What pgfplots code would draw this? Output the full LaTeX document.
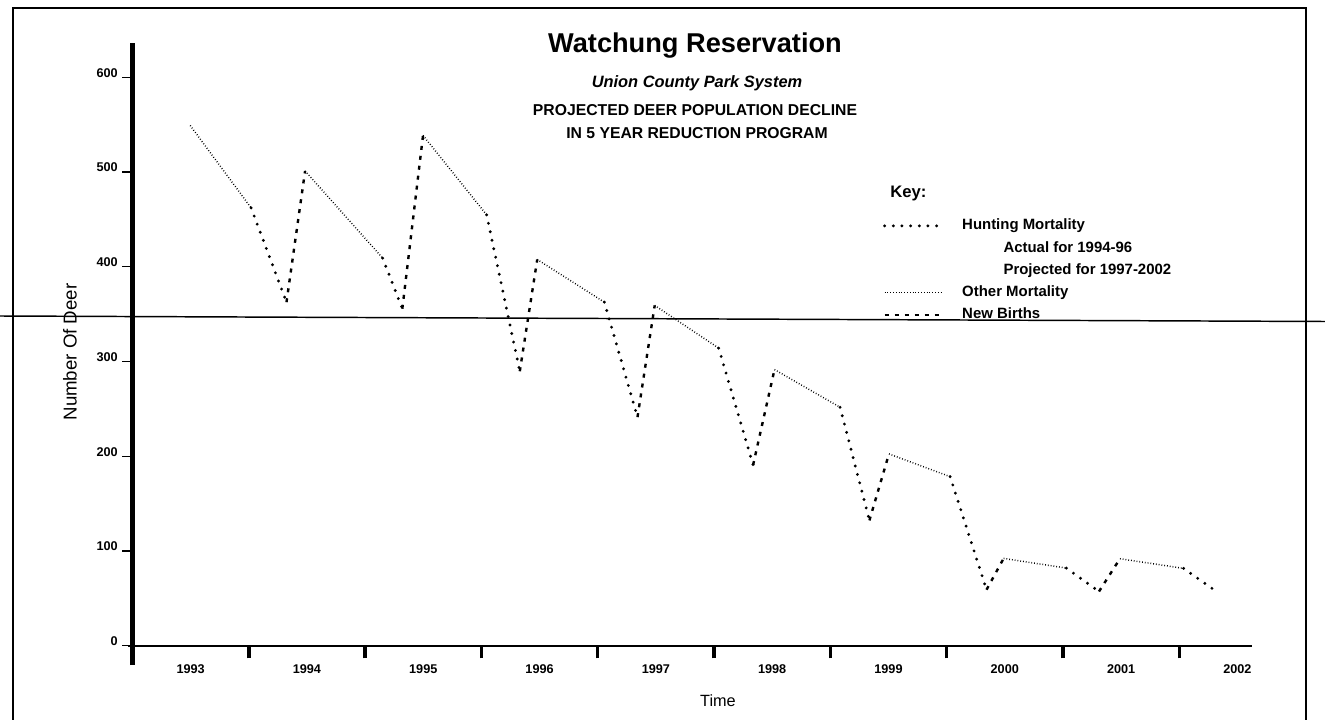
\documentclass[border=0pt]{standalone}
\usepackage{fontspec}
\setmainfont{Liberation Sans}
\usepackage{pgfplots}
\usepackage{pgfplotstable}
\pgfplotsset{compat=1.18}

% Other mortality (fine dots)
\pgfplotstableread[row sep=\\]{
x y\\
0.496 549\\ 1.02 462\\ 1.02 nan\\
1.484 501\\ 2.151 409\\ 2.151 nan\\
2.498 538.5\\ 3.045 454.7\\ 3.045 nan\\
3.48 407.6\\ 4.057 362.5\\ 4.057 nan\\
4.49 359.1\\ 5.04 314\\ 5.04 nan\\
5.52 291.4\\ 6.084 251.6\\ 6.084 nan\\
6.504 202.4\\ 7.03 178.4\\ 7.03 nan\\
7.49 92.1\\ 8.03 81.9\\ 8.03 nan\\
8.49 91.8\\ 9.037 81.6\\
}\othertab

% Hunting mortality (sparse dots)
\pgfplotstableread[row sep=\\]{
x y\\
1.02 462\\ 1.324 362.5\\ 1.324 nan\\
2.151 409\\ 2.32 355.6\\ 2.32 nan\\
3.045 454.7\\ 3.33 289.6\\ 3.33 nan\\
4.057 362.5\\ 4.342 241.2\\ 4.342 nan\\
5.04 314\\ 5.336 190.7\\ 5.336 nan\\
6.084 251.6\\ 6.336 132.2\\ 6.336 nan\\
7.03 178.4\\ 7.343 59.1\\ 7.343 nan\\
8.03 81.9\\ 8.31 57.2\\ 8.31 nan\\
9.037 81.6\\ 9.32 57.2\\
}\huntingtab

% New births (dashes)
\pgfplotstableread[row sep=\\]{
x y\\
1.324 362.5\\ 1.484 501\\ 1.484 nan\\
2.32 355.6\\ 2.498 538.5\\ 2.498 nan\\
3.33 289.6\\ 3.48 407.6\\ 3.48 nan\\
4.342 241.2\\ 4.49 359.1\\ 4.49 nan\\
5.336 190.7\\ 5.52 291.4\\ 5.52 nan\\
6.336 132.2\\ 6.504 202.4\\ 6.504 nan\\
7.343 59.1\\ 7.49 92.1\\ 7.49 nan\\
8.31 57.2\\ 8.49 91.8\\
}\birthstab

\begin{document}
\begin{tikzpicture}
\useasboundingbox (0,0) rectangle (993.75pt,-540pt);
\begin{scope}[x=0.75pt,y=-0.75pt]
  \clip (0,0) rectangle (1325,720);
  \draw[line width=1.5pt] (12.7,740) -- (12.7,8.3) -- (1306,8.3) -- (1306,740);
  \draw[line width=1.1pt] (0,316) -- (1325,321.5);
  \node[anchor=base, inner sep=0pt, font=\bfseries\fontsize{20.4}{24}\selectfont] at (695,53) {Watchung Reservation};
  \node[anchor=base, inner sep=0pt, font=\bfseries\itshape\fontsize{12.3}{14}\selectfont] at (697,88) {Union County Park System};
  \node[anchor=base, inner sep=0pt, font=\bfseries\fontsize{11.8}{14}\selectfont] at (695,116) {PROJECTED DEER POPULATION DECLINE};
  \node[anchor=base, inner sep=0pt, font=\bfseries\fontsize{11.8}{14}\selectfont] at (697,139) {IN 5 YEAR REDUCTION PROGRAM};
  \node[anchor=base west, inner sep=0pt, font=\bfseries\fontsize{12.5}{14}\selectfont] at (890,198) {Key:};
  \node[rotate=90, inner sep=0pt, font=\fontsize{14}{16}\selectfont] at (70,352) {Number Of Deer};
  \node[anchor=base, inner sep=0pt, font=\fontsize{12.2}{14}\selectfont] at (718,706) {Time};
\end{scope}
\begin{axis}[
  at={(99.375pt,-484.275pt)}, anchor=south west,
  scale only axis, width=839.4pt, height=452pt,
  xmin=0, xmax=9.623, ymin=0, ymax=636,
  axis lines=left,
  axis line style={-},
  x axis line style={line width=1.4pt, shorten <=-3pt},
  y axis line style={line width=3pt, shorten <=-14.5pt},
  tick align=outside,
  xtick={1,2,3,4,5,6,7,8,9},
  xticklabels={},
  minor xtick={1,2,3,4,5,6,7,8,9},
  minor tick length=9.5pt,
  minor tick style={line width=2.6pt, black},
  extra x ticks={0.5,1.5,2.5,3.5,4.5,5.5,6.5,7.5,8.5,9.5},
  extra x tick labels={1993,1994,1995,1996,1997,1998,1999,2000,2001,2002},
  extra x tick style={major tick length=0pt},
  ytick={0,100,200,300,400,500,600},
  major tick length=7.5pt,
  major tick style={line width=0.9pt, black},
  /pgf/number format/assume math mode=true,
  ticklabel style={font=\bfseries\fontsize{9.5}{11}\selectfont},
  xticklabel style={yshift=-11pt},
  yticklabel style={anchor=base east},
  unbounded coords=jump,
  clip=false,
  legend cell align=left,
  legend image code/.code={\draw[#1] (0pt,0pt) -- (43pt,0pt); \path (56pt,0pt);},
  legend style={at={(0.6706,0.711)}, anchor=north west, draw=none, fill=none,
    inner sep=0pt, outer sep=0pt, row sep=3.7pt,
    nodes={inner sep=1pt, text height=8.5pt, text depth=2.5pt,
      font=\bfseries\fontsize{11.2}{13}\selectfont}},
]
\addplot[black, line width=2.4pt, line cap=round, dash pattern=on 0pt off 6.5pt] table {\huntingtab};
\addlegendentry{Hunting Mortality}
\addlegendimage{empty legend}
\addlegendentry{\hspace*{31pt}Actual for 1994-96}
\addlegendimage{empty legend}
\addlegendentry{\hspace*{31pt}Projected for 1997-2002}
\addplot[black, line width=1.1pt, dash pattern=on 0.6pt off 1.5pt] table {\othertab};
\addlegendentry{Other Mortality}
\addplot[black, line width=1.8pt, dash pattern=on 3pt off 4.5pt] table {\birthstab};
\addlegendentry{New Births}
\end{axis}
\end{tikzpicture}
\end{document}
